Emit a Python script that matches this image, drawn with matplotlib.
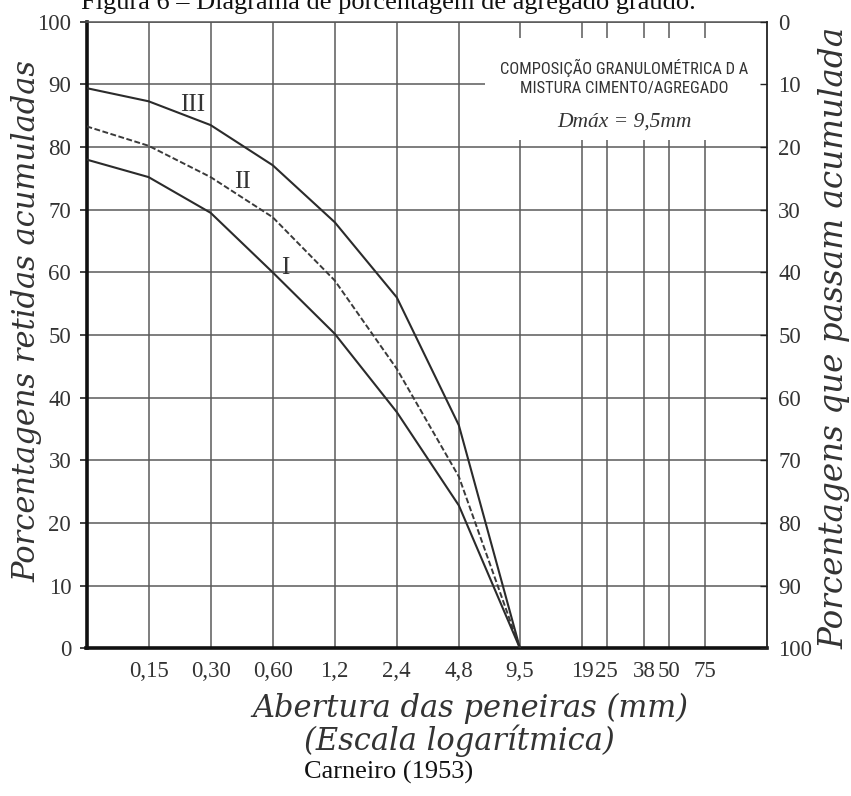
import os
import matplotlib
matplotlib.use("Agg")
import matplotlib.pyplot as plt
from matplotlib.patches import Rectangle
from matplotlib.ticker import FixedLocator, NullLocator
from matplotlib import font_manager as fm

plt.rcParams['font.family'] = ['Liberation Serif', 'DejaVu Serif']

# Sieve openings (mm); the first entry is the left edge of the scale (pan)
abertura = [0.075, 0.15, 0.30, 0.60, 1.2, 2.4, 4.8, 9.5]
# Cumulative retained percentages for the three mixes
curva_I = [78.0, 75.2, 69.5, 60.0, 50.2, 37.7, 22.8, 0.0]
curva_II = [83.3, 80.2, 75.2, 68.8, 58.7, 44.6, 27.4, 0.0]
curva_III = [89.4, 87.3, 83.5, 77.1, 68.0, 56.0, 35.6, 0.0]

peneiras = [0.15, 0.30, 0.60, 1.2, 2.4, 4.8, 9.5, 19, 25, 38, 50, 75]
peneiras_rotulos = ['0,15', '0,30', '0,60', '1,2', '2,4', '4,8', '9,5',
                    '19', '25', '38', '50', '75']
retidas_ticks = list(range(0, 101, 10))


def condensed_font():
    """Return FontProperties for a narrow sans face if one is installed."""
    wanted = ['LiberationSansNarrow-Regular', 'RobotoCondensed-Regular',
              'NotoSans-Condensed.', 'DejaVuSansCondensed.',
              'OpenSans_Condensed-Regular', 'OpenSansCondensed-Regular',
              'ArialNarrow']
    files = [f.fname for f in fm.fontManager.ttflist]
    for key in wanted:
        for path in files:
            if key in os.path.basename(path):
                return fm.FontProperties(fname=path)
    return fm.FontProperties(family='Liberation Sans')


W, H = 851, 796
fig = plt.figure(figsize=(W / 100, H / 100), dpi=100)
L, R = 86.5 / W, 767 / W
B, T = 1 - 648.3 / H, 1 - 21.7 / H
ax = fig.add_axes([L, B, R - L, T - B])

ax.set_xscale('log')
ax.set_xlim(0.075, 150)
ax.set_ylim(0, 100)
ax.xaxis.set_major_locator(FixedLocator(peneiras))
ax.xaxis.set_minor_locator(NullLocator())
ax.set_xticklabels(peneiras_rotulos)
ax.set_yticks(retidas_ticks)
ax.set_axisbelow(True)
ax.grid(True, color='#5a5a5a', lw=1.1)

# Curves
ax.plot(abertura, curva_III, color='#2b2b2b', lw=1.5, zorder=3)
ax.plot(abertura, curva_II, color='#3a3a3a', lw=1.4, ls=(0, (3, 1.3)), zorder=3)
ax.plot(abertura, curva_I, color='#2b2b2b', lw=1.5, zorder=3)

ax.text(0.246, 86.7, 'III', fontsize=18, ha='center', va='center', color='#333', zorder=4)
ax.text(0.427, 74.4, 'II', fontsize=18, ha='center', va='center', color='#333', zorder=4)
ax.text(0.691, 60.7, 'I', fontsize=18, ha='center', va='center', color='#333', zorder=4)

# White panel with the mix description
ax.add_patch(Rectangle((0.585, 0.811), 0.415, 0.163, transform=ax.transAxes,
                       facecolor='white', edgecolor='none', zorder=2))
box_fp = condensed_font()
box_fp.set_size(12)
t1 = ax.text(0.790, 0.926, 'COMPOSIÇÃO GRANULOMÉTRICA D A', transform=ax.transAxes,
             ha='center', va='center', fontproperties=box_fp,
             color='#333', zorder=5)
t2 = ax.text(0.790, 0.893, 'MISTURA CIMENTO/AGREGADO', transform=ax.transAxes,
             ha='center', va='center', fontproperties=box_fp,
             color='#333', zorder=5)
# size the panel heading so its first line spans about 248 px
renderer = fig.canvas.get_renderer()
width_px = t1.get_window_extent(renderer).width
new_size = 12 * 248.0 / width_px
t1.set_fontsize(new_size)
t2.set_fontsize(new_size)
ax.text(0.790, 0.840, 'Dmáx = 9,5mm', transform=ax.transAxes,
        ha='center', va='center', fontsize=15.5, style='italic',
        color='#333', zorder=5)

# Spines and ticks
for s in ('left', 'bottom'):
    ax.spines[s].set_linewidth(2.6)
    ax.spines[s].set_color('#111')
ax.spines['top'].set_linewidth(1.1)
ax.spines['top'].set_color('#555')
ax.spines['right'].set_visible(False)
ax.tick_params(axis='x', length=0, pad=9.5, labelsize=16.5, labelcolor='#333')
ax.tick_params(axis='y', direction='out', length=5, width=1.2, color='#222',
               pad=6, labelsize=16.5, labelcolor='#333')

ax2 = ax.twinx()
ax2.set_ylim(100, 0)
ax2.set_yticks(retidas_ticks)
for s in ('left', 'top', 'bottom'):
    ax2.spines[s].set_visible(False)
ax2.spines['right'].set_linewidth(1.3)
ax2.spines['right'].set_color('#222')
ax2.tick_params(axis='y', direction='in', length=5, width=1.0, color='#222',
                pad=8, labelsize=16.5, labelcolor='#333')

# Axis titles and captions
lab = dict(family='DejaVu Serif', style='italic', color='#333')
fig.text(27 / W, 1 - 321 / H, 'Porcentagens retidas acumuladas', rotation=90,
         ha='center', va='center', fontsize=22, **lab)
fig.text(834.5 / W, 1 - 338 / H, 'Porcentagens que passam acumulada', rotation=90,
         ha='center', va='center', fontsize=23.5, **lab)
fig.text(470 / W, 1 - 708 / H, 'Abertura das peneiras (mm)',
         ha='center', va='center', fontsize=22, **lab)
fig.text(459 / W, 1 - 741 / H, '(Escala logarítmica)',
         ha='center', va='center', fontsize=22, **lab)
fig.text(389 / W, 1 - 772 / H, 'Carneiro (1953)', ha='center', va='center',
         fontsize=19, color='#111')
fig.text(81 / W, 1 - 9 / H, 'Figura 6 – Diagrama de porcentagem de agregado graúdo.',
         ha='left', va='baseline', fontsize=19, color='#111')

fig.savefig('out.png', dpi=100)
